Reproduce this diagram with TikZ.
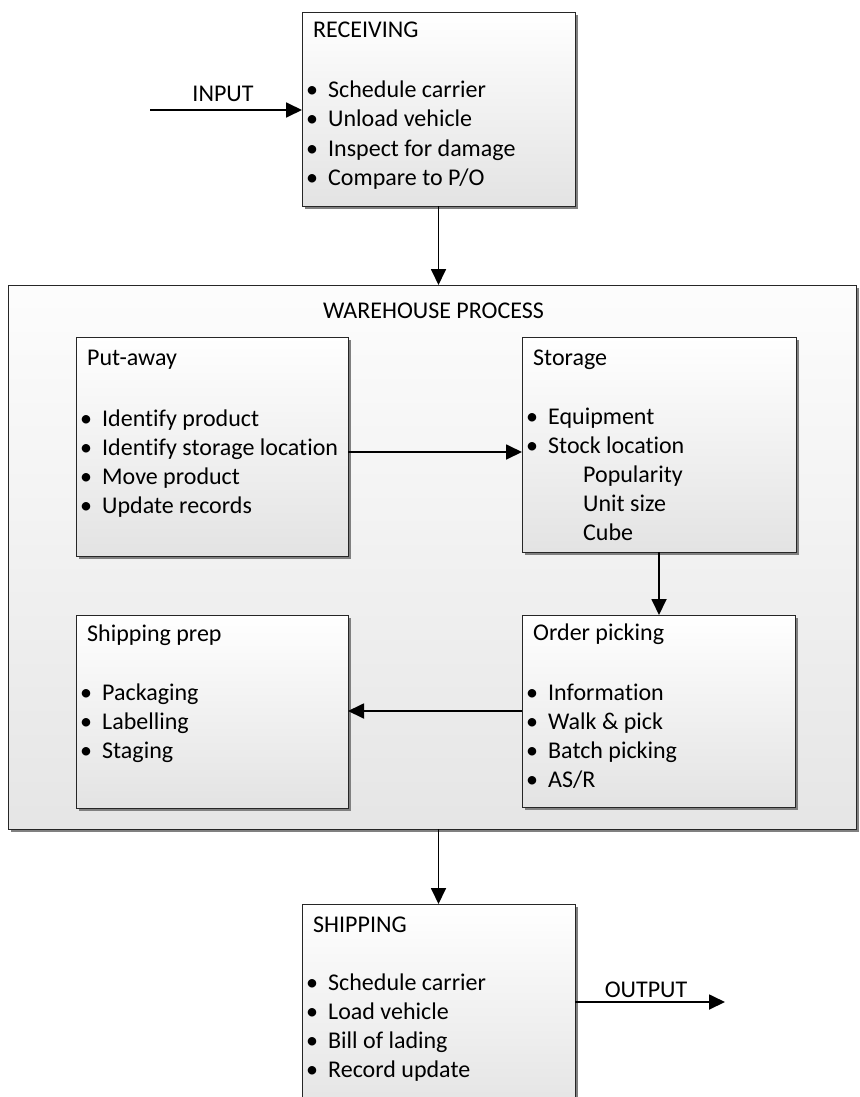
\documentclass[tikz,border=0pt]{standalone}
\usepackage{fontspec}
\setmainfont{Carlito}[Ligatures=NoCommon]
\usetikzlibrary{shadows,arrows.meta}
\tikzset{
  panel/.style={draw=black!85, line width=0.9pt, top color=white, bottom color=black!11,
    inner sep=0pt, outer sep=0pt, anchor=north west,
    drop shadow={shadow xshift=3pt, shadow yshift=-3pt, fill=black!50, opacity=1}},
  txt/.style={inner sep=0pt, anchor=base west, font=\fontsize{24}{29}\selectfont},
  lbl/.style={inner sep=0pt, anchor=base, font=\fontsize{24}{29}\selectfont},
  arr/.style={line width=1.8pt, -{Triangle[length=16pt,width=15pt]}}
}
% bullet followed by a fixed indent
\newcommand\bul{\makebox[22pt][l]{\textbullet}}
% lines of a panel: name, x, first baseline, list of lines
\newcommand\panellines[4]{%
  \foreach \t [count=\i from 0] in {#4} {\node[txt] (#1-\i) at (#2,{#3+29*\i}) {\t};}}

\begin{document}
\begin{tikzpicture}[x=1pt,y=-1pt]
\useasboundingbox (0,0) rectangle (859,1097);
\clip (0,0) rectangle (859,1097);

% outer process frame
\node[panel, minimum width=848pt, minimum height=544pt, top color=black!1, bottom color=black!10] (wh) at (8,285) {};
\node[lbl] (wh-title) at (433.5,318) {WAREHOUSE PROCESS};

% panels
\node[panel, minimum width=273pt, minimum height=194pt] (recv) at (302,12) {};
\node[panel, minimum width=272pt, minimum height=219pt] (put) at (76,337) {};
\node[panel, minimum width=274pt, minimum height=215pt] (stor) at (522,337) {};
\node[panel, minimum width=272pt, minimum height=193pt] (prep) at (76,615) {};
\node[panel, minimum width=273pt, minimum height=192pt] (ord) at (522,615) {};
\node[panel, minimum width=273pt, minimum height=215pt] (ship) at (302,904) {};

% panel texts
\node[txt] (recv-title) at (313,38) {RECEIVING};
\panellines{recv}{306}{98}{\bul Schedule carrier,\bul Unload vehicle,\bul Inspect for damage,\bul Compare to P/O}

\node[txt] (put-title) at (87,365) {Put-away};
\panellines{put}{80}{426}{\bul Identify product,\bul Identify storage location,\bul Move product,\bul Update records}

\node[txt] (stor-title) at (533,365) {Storage};
\panellines{stor}{526}{424}{\bul Equipment,\bul Stock location,\hspace*{57pt}Popularity,\hspace*{57pt}Unit size,\hspace*{57pt}Cube}

\node[txt] (prep-title) at (87,641) {Shipping prep};
\panellines{prep}{80}{700}{\bul Packaging,\bul Labelling,\bul Staging}

\node[txt] (ord-title) at (533,640) {Order picking};
\panellines{ord}{526}{700}{\bul Information,\bul Walk \& pick,\bul Batch picking,\bul AS/R}

\node[txt] (ship-title) at (313,932) {SHIPPING};
\panellines{ship}{306}{990}{\bul Schedule carrier,\bul Load vehicle,\bul Bill of lading,\bul Record update}

% connectors
\coordinate (inp) at (150,110);
\coordinate (outp) at (725,1002);
\coordinate (ypa) at (0,452);
\coordinate (yout) at (0,1002);

\draw[arr] (inp) -- (inp -| recv.west);
\node[lbl] (inp-lbl) at (223,102) {INPUT};

\draw[arr] (recv.south) -- (recv.south |- wh.north);
\draw[arr] (put.east |- ypa) -- (stor.west |- ypa);
\draw[arr] (stor.south) -- (stor.south |- ord.north);
\draw[arr] (ord.west) -- (ord.west -| prep.east);
\draw[arr] (ship.north |- wh.south) -- (ship.north);

\draw[arr] (ship.east |- yout) -- (outp);
\node[lbl] (out-lbl) at (646,997) {OUTPUT};
\end{tikzpicture}
\end{document}
